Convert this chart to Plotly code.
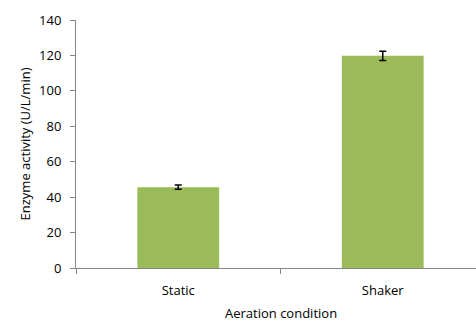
import plotly.graph_objects as go

categories = ["Static", "Shaker"]
activity = [45.6, 119.8]
errors = [1.2, 2.6]
y_ticks = [0, 20, 40, 60, 80, 100, 120, 140]

FONT = "Open Sans"
AX = "#868686"
FS = 13

fig = go.Figure()
fig.add_trace(go.Bar(
    x=categories, y=activity,
    marker=dict(color="#9BBB59", line=dict(width=0)),
    error_y=dict(type="data", array=errors, visible=True, color="black", thickness=1.5, width=3.5),
    width=0.4,
    hoverinfo="skip",
))

fig.update_layout(
    width=476, height=322,
    margin=dict(l=76, r=0, t=20, b=54, autoexpand=False),
    paper_bgcolor="white", plot_bgcolor="white",
    showlegend=False,
    font=dict(family=FONT, size=FS, color="black"),
    xaxis=dict(
        type="category", range=[-0.5, 1.456], automargin=False,
        showline=True, linecolor=AX, linewidth=1,
        ticks="outside", tickson="boundaries", ticklen=5, tickcolor=AX,
        ticklabelstandoff=10,
        showgrid=False, zeroline=False,
        tickfont=dict(family=FONT, size=FS),
    ),
    yaxis=dict(
        range=[0, 140], tickvals=y_ticks, automargin=False,
        showline=True, linecolor=AX, linewidth=1,
        ticks="outside", ticklen=5, tickcolor=AX,
        ticklabelstandoff=6,
        showgrid=False, zeroline=False,
        tickfont=dict(family=FONT, size=FS),
        title=dict(text="Enzyme activity (U/L/min)", font=dict(family=FONT, size=FS), standoff=5),
    ),
    annotations=[dict(
        text="Aeration condition", xref="x", yref="paper",
        x=0.5, y=0, yshift=-45, showarrow=False, yanchor="middle",
        font=dict(family=FONT, size=FS),
    )],
)

fig.write_html(
    "out.html",
    config={"displayModeBar": False},
    post_script="document.body.style.margin='0';document.body.style.overflow='hidden';",
)
